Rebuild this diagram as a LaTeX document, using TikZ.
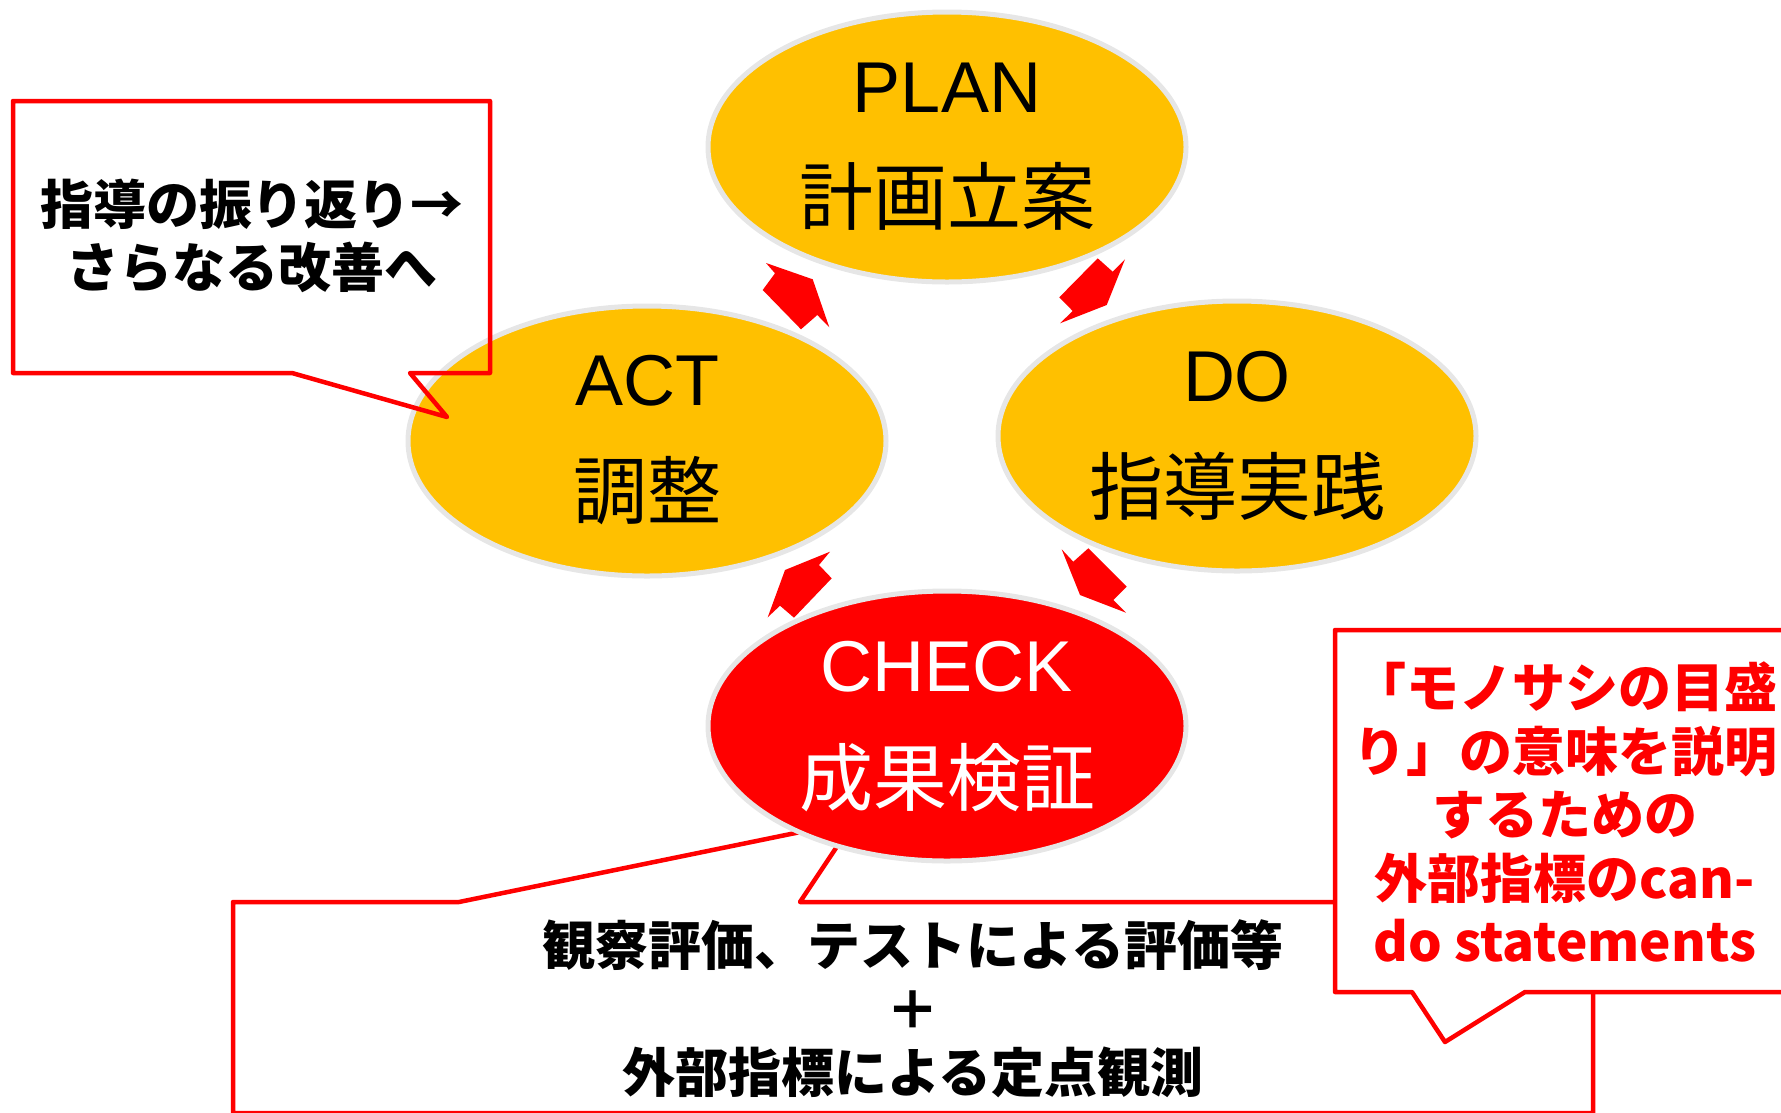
\documentclass[tikz,border=0pt]{standalone}
\usepackage{fontspec}
\setmainfont{Liberation Sans}
\newfontfamily\jp{Noto Sans CJK JP}
\usetikzlibrary{shapes.geometric}
\definecolor{pdcagold}{HTML}{FFC000}
\definecolor{pdcared}{HTML}{FF0000}
\definecolor{rimgray}{HTML}{E6E6E6}
\tikzset{
  phase/.style={ellipse, draw=rimgray, line width=5pt, minimum width=478pt, minimum height=270pt, inner sep=0pt},
  entext/.style={anchor=base, inner sep=0pt, font=\fontsize{72}{80}\selectfont},
  jptext/.style={anchor=base, inner sep=0pt, font=\jp\fontsize{74}{80}\selectfont},
  calloutline/.style={draw=pdcared, line width=4.5pt, line join=round},
  calltext/.style={align=center, inner sep=0pt, font=\jp\bfseries\fontsize{53}{63.5}\selectfont},
  cyclearrow/.style={fill=pdcared}
}
\begin{document}
\begin{tikzpicture}[x=1pt,y=-1pt]
\useasboundingbox (0,0) rectangle (1781,1112);
\clip (0,0) rectangle (1781,1112);

% bottom callout (behind CHECK)
\path[calloutline, fill=white] (233,902) -- (459,902) -- (854,821) -- (800,902) -- (1593,902)
  -- (1593,1113) -- (233,1113) -- cycle;

% phase ellipses
\node[phase, fill=pdcagold] (plan) at (947,147) {};
\node[phase, fill=pdcagold] (act) at (647,441) {};
\node[phase, fill=pdcagold] (do) at (1237,436) {};
\node[phase, fill=pdcared] (check) at (947,726) {};

% cycle arrows
\fill[cyclearrow] (766,263) -- (812.7,279.3) -- (829.3,327.3) -- (817.3,315) -- (801,329.3) -- (762.7,290) -- (775,273.3) -- cycle;
\fill[cyclearrow] (1097.7,258.3) -- (1112.7,271.7) -- (1125,259.3) -- (1106.7,305) -- (1060,323.3) -- (1072.7,311) -- (1059.3,297.3) -- cycle;
\fill[cyclearrow] (1061.7,549.3) -- (1073.3,561.7) -- (1088.3,548.3) -- (1126.7,586.7) -- (1113.3,600) -- (1126,612.7) -- (1080,595) -- cycle;
\fill[cyclearrow] (830,551.7) -- (819,565) -- (831.7,578.3) -- (794,617.7) -- (780,605.7) -- (767.7,617.3) -- (785,570) -- cycle;

% right callout
\path[calloutline, fill=white] (1335,630) -- (1800,630) -- (1800,992) -- (1525,992) -- (1445,1042)
  -- (1412,992) -- (1335,992) -- cycle;

% top-left callout
\path[calloutline] (13,101) -- (490,101) -- (490,373) -- (410,373) -- (447,417) -- (292,373)
  -- (13,373) -- cycle;

% ellipse texts
\node[entext] (plan-en) at (947,112) {PLAN};
\node[jptext] (plan-jp) at (947,224) {計画立案};
\node[entext] (act-en) at (647,405) {ACT};
\node[jptext] (act-jp) at (647,518) {調整};
\node[entext] (do-en) at (1237,401) {DO};
\node[jptext] (do-jp) at (1237,514) {指導実践};
\node[entext, text=white] (check-en) at (947,691) {CHECK};
\node[jptext, text=white] (check-jp) at (947,805) {成果検証};

% callout texts
\node[calltext] (reflect) at (252,236) {指導の振り返り→\\さらなる改善へ};
\node[calltext, text=pdcared] (ruler) at (1565,812) {「モノサシの目盛\\り」の意味を説明\\するための\\外部指標のcan-\\do statements};
\node[calltext] (evaluate) at (913,1009) {観察評価、テストによる評価等\\＋\\外部指標による定点観測};
\end{tikzpicture}
\end{document}
